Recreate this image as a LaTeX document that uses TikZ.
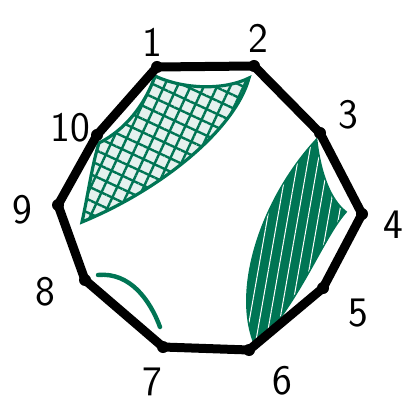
\documentclass[tikz,border=0pt]{standalone}
\usetikzlibrary{patterns.meta}
\definecolor{hgreen}{RGB}{0,117,84}
\tikzset{
  edge_style/.style={line width=4.5pt, black, line join=round, line cap=round},
  vert_dot/.style={circle, fill=black, inner sep=0pt, minimum size=6pt},
  vert_label/.style={font=\sffamily\fontsize{21}{24}\selectfont},
  region_a/.style={draw=hgreen, line width=1.6pt, fill=hgreen!10,
    postaction={pattern={Lines[angle=65, distance=6pt, line width=1.2pt]}, pattern color=hgreen},
    postaction={pattern={Lines[angle=-25, distance=6pt, line width=1.2pt]}, pattern color=hgreen}},
  region_b/.style={draw=hgreen, line width=1.6pt, fill=hgreen,
    postaction={pattern={Lines[angle=80, distance=5pt, line width=0.5pt]}, pattern color=white}},
  chord/.style={draw=hgreen, line width=2.2pt, line cap=round}
}
\begin{document}
\begin{tikzpicture}[x=0.5pt, y=-0.5pt]
  \useasboundingbox (0,0) rectangle (405,410);

  % --- Vertices ---
  \coordinate (v1) at (157,67);
  \coordinate (v2) at (254,66);
  \coordinate (v3) at (320,133);
  \coordinate (v4) at (362,214);
  \coordinate (v5) at (323,288);
  \coordinate (v6) at (249,350);
  \coordinate (v7) at (163,347);
  \coordinate (v8) at (85,280);
  \coordinate (v9) at (58,205);
  \coordinate (v10) at (97,135);

  % --- Shaded regions ---
  \path[region_a] (155,76) .. controls (185,90) and (225,90) .. (249,78)
    .. controls (235,130) and (160,190) .. (82,222)
    .. controls (88,195) and (92,165) .. (99,143)
    .. controls (125,130) and (145,105) .. cycle;
  \path[region_b] (316,141) .. controls (320,175) and (330,200) .. (345,212)
    .. controls (322,238) and (300,300) .. (256,346)
    .. controls (232,290) and (262,200) .. cycle;

  % --- Polygon ---
  \draw[edge_style] (v1) -- (v2) -- (v3) -- (v4) -- (v5) -- (v6) -- (v7)
    -- (v8) -- (v9) -- (v10) -- cycle;
  \foreach \i in {1,...,10}
    \node[vert_dot] (d\i) at (v\i) {};

  % --- Chord ---
  \draw[chord] (98,275) .. controls (130,272) and (150,300) .. (160,327);

  % --- Labels ---
  \node[vert_label] (l1) at (152,42) {1};
  \node[vert_label] (l2) at (258,38) {2};
  \node[vert_label] (l3) at (348,115) {3};
  \node[vert_label] (l4) at (393,225) {4};
  \node[vert_label] (l5) at (358,313) {5};
  \node[vert_label] (l6) at (282,381) {6};
  \node[vert_label] (l7) at (152,382) {7};
  \node[vert_label] (l8) at (45,292) {8};
  \node[vert_label] (l9) at (22,210) {9};
  \node[vert_label] (l10) at (70,128) {10};
\end{tikzpicture}
\end{document}
